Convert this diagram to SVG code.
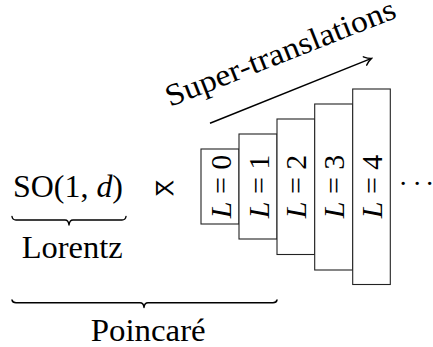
<svg xmlns="http://www.w3.org/2000/svg" width="433" height="347" viewBox="0 0 433 347">
<defs>
<style>
.box{fill:#fff;stroke:#222;stroke-width:1.1;}
.brace{fill:none;stroke:#000;stroke-width:1.4;stroke-linecap:round;stroke-linejoin:round;}
.conn{fill:none;stroke:#000;stroke-width:1.5;}
</style>
<marker id="arr" viewBox="-10 -6 12 12" markerWidth="12" markerHeight="12" refX="0" refY="0" orient="auto" markerUnits="userSpaceOnUse">
<path d="M-7,-4.5 Q-3,-1 0,0 Q-3,1 -7,4.5" fill="none" stroke="#000" stroke-width="1.4" stroke-linecap="round"/>
</marker>
</defs>
<rect width="433" height="347" fill="#fff"/>

<g id="lorentz">
<text x="13" y="197" style="font-family:'Liberation Serif',serif;font-size:31px" textLength="110" lengthAdjust="spacingAndGlyphs">SO(1, <tspan style="font-style:italic">d</tspan>)</text>
<path class="brace" d="M12,216.5 Q12.5,220 16,220 L65,220 Q68.5,220 69,225 Q69.5,220 73,220 L122,220 Q125.5,220 126,216.5"/>
<text x="21.7" y="258" style="font-family:'Liberation Serif',serif;font-size:31px" textLength="101" lengthAdjust="spacingAndGlyphs">Lorentz</text>
</g>

<g id="semidirect">
<text x="164.7" y="195" style="font-family:'DejaVu Sans',sans-serif;font-size:22px" text-anchor="middle">⋉</text>
</g>

<g id="poincare">
<path class="brace" d="M12,300 Q12.5,302.7 16,302.7 L140,302.7 Q143.5,302.7 144,307.5 Q144.5,302.7 148,302.7 L273,302.7 Q276.5,302.7 277,300"/>
<text x="90.7" y="341" style="font-family:'Liberation Serif',serif;font-size:31px" textLength="115" lengthAdjust="spacingAndGlyphs">Poincaré</text>
</g>

<g id="L0">
<rect class="box" x="201" y="149" width="38" height="75"/>
<text style="font-family:'Liberation Serif',serif;font-size:30px" text-anchor="middle" transform="translate(230.5,186.5) rotate(-90)"><tspan style="font-style:italic">L</tspan> = 0</text>
</g>
<g id="L1">
<rect class="box" x="239" y="134" width="38" height="105"/>
<text style="font-family:'Liberation Serif',serif;font-size:30px" text-anchor="middle" transform="translate(268.5,186.5) rotate(-90)"><tspan style="font-style:italic">L</tspan> = 1</text>
</g>
<g id="L2">
<rect class="box" x="277" y="119" width="37.7" height="135.5"/>
<text style="font-family:'Liberation Serif',serif;font-size:30px" text-anchor="middle" transform="translate(306.3,186.5) rotate(-90)"><tspan style="font-style:italic">L</tspan> = 2</text>
</g>
<g id="L3">
<rect class="box" x="314.7" y="104" width="38" height="166"/>
<text style="font-family:'Liberation Serif',serif;font-size:30px" text-anchor="middle" transform="translate(344.2,186.5) rotate(-90)"><tspan style="font-style:italic">L</tspan> = 3</text>
</g>
<g id="L4">
<rect class="box" x="352.7" y="89" width="37.6" height="195.5"/>
<text style="font-family:'Liberation Serif',serif;font-size:30px" text-anchor="middle" transform="translate(382,186.5) rotate(-90)"><tspan style="font-style:italic">L</tspan> = 4</text>
</g>

<g id="dots">
<text x="398.5 412.5 425" y="193" style="font-family:'Liberation Serif',serif;font-size:28px">···</text>
</g>

<g id="connectors">
<line class="conn" x1="210" y1="123.3" x2="371.5" y2="58.4" marker-end="url(#arr)"/>
</g>

<g id="supertranslations">
<text style="font-family:'Liberation Serif',serif;font-size:31px" transform="translate(170,107) rotate(-21.5)" x="0" y="0" textLength="245" lengthAdjust="spacingAndGlyphs">Super-translations</text>
</g>
</svg>
